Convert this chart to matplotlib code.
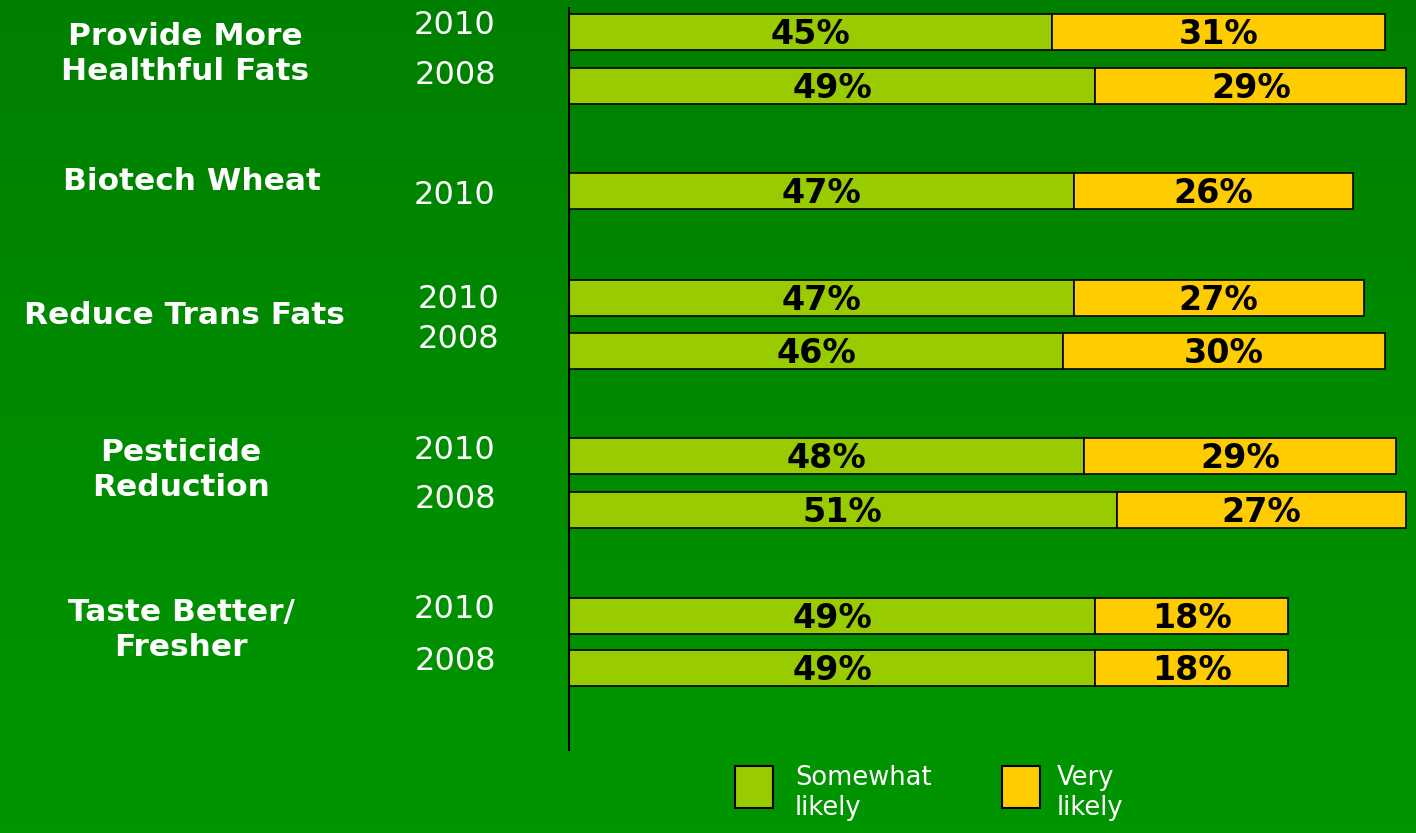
import numpy as np
import matplotlib
matplotlib.use("Agg")
import matplotlib.pyplot as plt
from matplotlib.patches import Rectangle

# data
categories = ["Provide More\nHealthful Fats", "Biotech Wheat", "Reduce Trans Fats",
              "Pesticide\nReduction", "Taste Better/\nFresher"]
bar_year = ["2010", "2008", "2010", "2010", "2008", "2010", "2008", "2010", "2008"]
somewhat = [45, 49, 47, 47, 46, 48, 51, 49, 49]
very = [31, 29, 26, 27, 30, 29, 27, 18, 18]
legend_labels = ["Somewhat\nlikely", "Very\nlikely"]

# layout (pixel rows, figure is 1416x833)
bar_y = [32, 86, 191, 298, 351, 456, 510, 616, 668]
year_y = [26, 76, 195, 300, 339, 451, 500, 610, 661]
year_x = [455, 455, 455, 458, 458, 455, 455, 455, 455]
cat_y = [54, 181, 316, 470, 630]
cat_x = [185, 192, 184, 181, 181]
bar_h = 36

c_some = "#99CC00"
c_very = "#FFCC00"

W, H = 1416, 833
fig = plt.figure(figsize=(W / 100, H / 100), dpi=100)

# background gradient
bg = fig.add_axes([0, 0, 1, 1])
grad = np.linspace(0, 1, 256)[:, None]
top = np.array([0, 128, 0]) / 255
bot = np.array([0, 150, 0]) / 255
img = top[None, None, :] * (1 - grad[:, :, None]) + bot[None, None, :] * grad[:, :, None]
bg.imshow(img, aspect="auto", extent=[0, 1, 0, 1])
bg.set_axis_off()

# main axes: x in percent, y in pixels from the top
x0 = 569
px_per = (1385 - x0) / 76
ax = fig.add_axes([x0 / W, 0, 1 - x0 / W, 1])
ax.set_xlim(0, (W - x0) / px_per)
ax.set_ylim(H, 0)
ax.set_axis_off()
ax.patch.set_alpha(0)

ax.barh(bar_y, somewhat, height=bar_h, color=c_some, edgecolor="black", linewidth=1.2)
ax.barh(bar_y, very, left=somewhat, height=bar_h, color=c_very, edgecolor="black", linewidth=1.2)
ax.plot([0, 0], [8, 750], color="black", lw=1.5, clip_on=False)

for y, s, v in zip(bar_y, somewhat, very):
    ax.text(s / 2, y + 2, f"{s}%", ha="center", va="center", fontsize=24,
            fontweight="bold", color="black")
    ax.text(s + v / 2, y + 2, f"{v}%", ha="center", va="center", fontsize=24,
            fontweight="bold", color="black")

# text in figure pixel coords
def fx(x):
    return x / W

def fy(y):
    return 1 - y / H

for lab, x, y in zip(categories, cat_x, cat_y):
    fig.text(fx(x), fy(y), lab, ha="center", va="center", fontsize=22.5,
             fontweight="bold", color="white", linespacing=1.3)

for yr, x, y in zip(bar_year, year_x, year_y):
    fig.text(fx(x), fy(y), yr, ha="center", va="center", fontsize=23, color="white")

# legend
for (bx, tx), col, lab in zip([(735, 795), (1002, 1057)], [c_some, c_very], legend_labels):
    fig.patches.append(Rectangle((fx(bx), fy(808)), 38 / W, 42 / H, transform=fig.transFigure,
                                 facecolor=col, edgecolor="black", linewidth=1.5))
    fig.text(fx(tx), fy(793), lab, ha="left", va="center", fontsize=18.5, color="white",
             linespacing=1.2)

fig.savefig("out.png", dpi=100)
